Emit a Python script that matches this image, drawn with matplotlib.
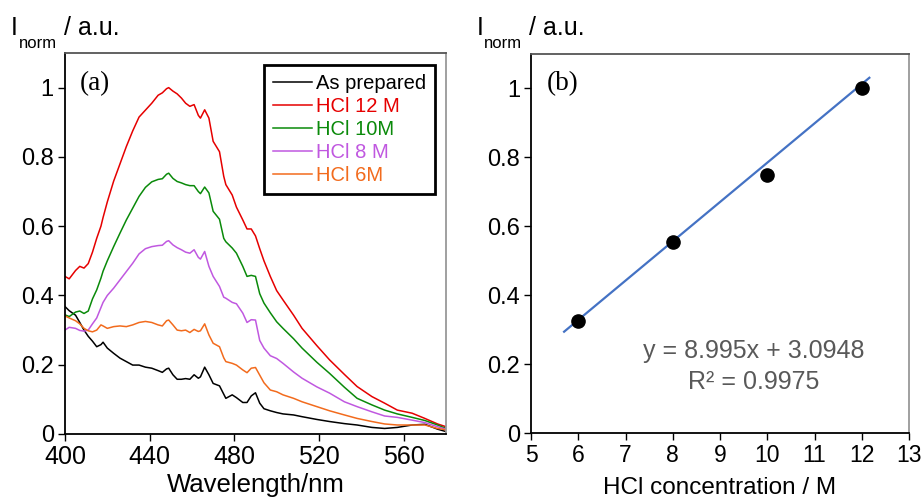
import numpy as np
import matplotlib
matplotlib.use('Agg')
import matplotlib.pyplot as plt
from matplotlib.ticker import FuncFormatter

plt.rcParams['font.family'] = ['Liberation Sans', 'DejaVu Sans']

# emission spectra (normalised intensity vs wavelength in nm)
wavelength = [400, 402, 405, 407, 409, 411, 413, 415, 417, 418, 420, 423, 426, 429, 432, 435, 438, 441,
              444, 446, 448, 449, 451, 453, 455, 457, 459, 461, 463, 464, 466, 468, 470, 473, 475, 476,
              479, 481, 484, 486, 488, 490, 492, 494, 497, 500, 503, 508, 512, 519, 525, 532, 538, 545,
              551, 557, 564, 570, 576, 580]
as_prepared = [.368, .356, .343, .322, .300, .282, .268, .252, .258, .265, .248, .233, .219, .209, .199, .199, .193, .190,
               .183, .178, .188, .190, .171, .158, .158, .160, .158, .171, .161, .165, .193, .171, .146, .139, .115, .103,
               .113, .105, .091, .091, .110, .119, .089, .073, .067, .062, .058, .055, .050, .042, .036, .030, .026, .019,
               .016, .019, .026, .028, .014, .007]
hcl_12M = [.455, .448, .472, .484, .479, .492, .525, .565, .600, .625, .670, .730, .780, .830, .875, .915, .935, .955,
           .978, .985, .997, 1.0, .990, .982, .970, .955, .946, .951, .920, .912, .936, .912, .845, .815, .744, .720,
           .690, .655, .618, .592, .592, .572, .535, .500, .455, .414, .387, .343, .305, .255, .214, .172, .137, .108,
           .089, .069, .060, .045, .029, .021]
hcl_10M = [.344, .339, .352, .355, .348, .355, .390, .416, .450, .470, .500, .541, .580, .618, .652, .686, .712, .728,
           .735, .737, .750, .753, .738, .729, .725, .720, .717, .717, .700, .694, .713, .696, .643, .620, .565, .555,
           .537, .522, .484, .455, .458, .455, .405, .378, .350, .324, .305, .275, .248, .207, .175, .135, .103, .084,
           .069, .058, .048, .039, .026, .016]
hcl_8M = [.300, .308, .305, .299, .297, .300, .318, .335, .365, .380, .400, .421, .445, .469, .493, .520, .535, .541,
          .544, .545, .556, .558, .546, .538, .532, .525, .522, .532, .510, .505, .527, .484, .455, .426, .395, .392,
          .380, .376, .349, .322, .330, .329, .270, .248, .226, .218, .204, .179, .161, .136, .118, .093, .079, .064,
          .052, .048, .040, .033, .021, .014]
hcl_6M = [.341, .335, .327, .318, .305, .298, .295, .300, .315, .312, .305, .310, .312, .310, .315, .322, .325, .322,
          .315, .312, .327, .329, .315, .300, .298, .300, .293, .302, .296, .298, .318, .286, .262, .252, .220, .209,
          .204, .199, .185, .177, .190, .192, .170, .148, .127, .122, .113, .103, .093, .079, .067, .055, .045, .036,
          .029, .026, .026, .026, .016, .012]

# calibration: peak intensity vs HCl concentration
hcl_conc = [6, 8, 10, 12]
hcl_peak = [0.326, 0.554, 0.748, 1.0]
fit_x = [5.7, 12.16]   # ends of the trend line as drawn
fit_y = [0.294, 1.031]

spectra = [("As prepared", as_prepared, 'black'),
           ("HCl 12 M", hcl_12M, '#e60000'),
           ("HCl 10M", hcl_10M, '#0a8a0a'),
           ("HCl 8 M", hcl_8M, '#c058e0'),
           ("HCl 6M", hcl_6M, '#f26b1d')]

fig = plt.figure(figsize=(9.24, 5.0), dpi=100)
ax1 = fig.add_axes([0.0703, 0.132, 0.4124, 0.762])
ax2 = fig.add_axes([0.5747, 0.134, 0.4091, 0.758])

fmt = FuncFormatter(lambda v, p: '%g' % round(v, 2))

def style_axes(ax):
    ax.spines['left'].set_color('black')
    ax.spines['bottom'].set_color('black')
    ax.spines['top'].set_color('#555555')
    ax.spines['right'].set_color('#999999')
    for s in ax.spines.values():
        s.set_linewidth(1.3)
    ax.tick_params(direction='out', length=5, width=1, top=False, right=False, pad=3)
    ax.yaxis.set_major_formatter(fmt)
    ax.set_yticks([0, 0.2, 0.4, 0.6, 0.8, 1.0])
    ax.set_ylim(0, 1.1)
    ax.tick_params(axis='y', labelsize=17)

# (a) spectra
for name, vals, col in spectra:
    ax1.plot(wavelength, vals, color=col, lw=1.1, label=name)
style_axes(ax1)
ax1.set_xlim(400, 580)
ax1.set_xticks([400, 440, 480, 520, 560])
ax1.tick_params(axis='x', labelsize=18)
ax1.set_xlabel("Wavelength/nm", fontsize=18.5, labelpad=3)  # reference crops it at the edge, keep it just inside
ax1.text(0.04, 0.92, "(a)", transform=ax1.transAxes, fontsize=19.5, va='center',
         family=['Liberation Serif', 'DejaVu Serif'])
leg = ax1.legend(loc='upper right', bbox_to_anchor=(0.971, 0.969), borderaxespad=0, fontsize=14.5,
                 handlelength=1.9, handletextpad=0.2, labelspacing=0.2, borderpad=0.45,
                 fancybox=False, framealpha=1, edgecolor='black', labelcolor='linecolor')
leg.get_frame().set_linewidth(2)

# (b) calibration
ax2.plot(fit_x, fit_y, color='#4472c4', lw=1.6)
ax2.plot(hcl_conc, hcl_peak, 'o', color='black', ms=9.5, zorder=3)
style_axes(ax2)
ax2.set_xlim(5, 13)
ax2.set_xticks(range(5, 14))
ax2.tick_params(axis='x', labelsize=16.5)
ax2.set_xlabel("HCl concentration / M", fontsize=17.5, labelpad=7)
ax2.text(0.042, 0.922, "(b)", transform=ax2.transAxes, fontsize=19.5, va='center',
         family=['Liberation Serif', 'DejaVu Serif'])
ax2.text(9.71, 0.217, "y = 8.995x + 3.0948", ha='center', va='baseline', fontsize=18, color='#595959')
ax2.text(9.71, 0.127, "R² = 0.9975", ha='center', va='baseline', fontsize=18, color='#595959')

# y axis titles sit above the axes: I with a lowered "norm" subscript
for x0 in (0.0120, 0.5155):
    fig.text(x0, 0.930, "I", fontsize=18, va='baseline')
    fig.text(x0 + 0.0085, 0.905, "norm", fontsize=12, va='baseline')
    fig.text(x0 + 0.057, 0.930, "/ a.u.", fontsize=18, va='baseline')

fig.savefig('out.png', dpi=100)
